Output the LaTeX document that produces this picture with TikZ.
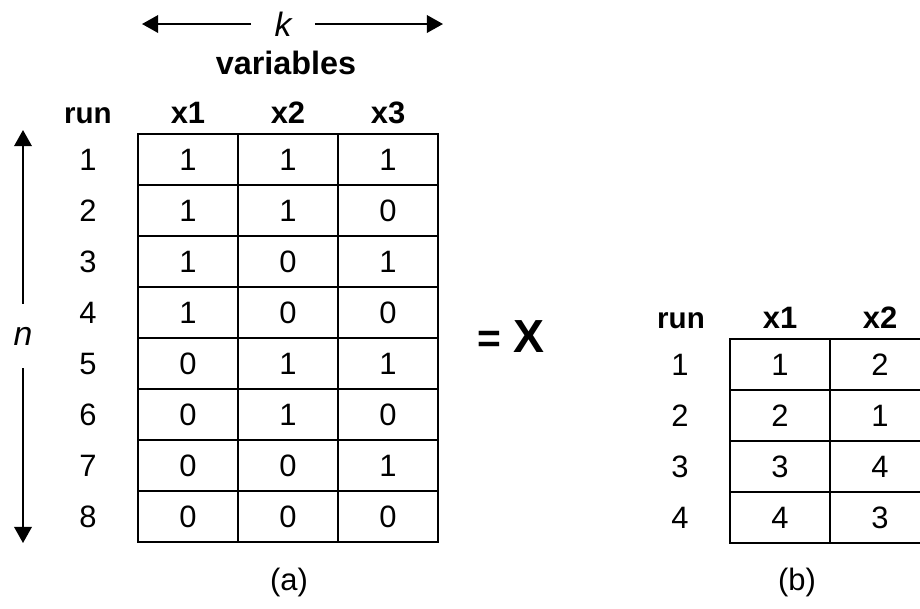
\documentclass[tikz,border=0pt]{standalone}
\usepackage{fontspec}
\setmainfont{Liberation Sans}
\usetikzlibrary{calc,arrows.meta}

\tikzset{
    cell/.style={draw=black, line width=1.8pt, minimum width=2.5cm, minimum height=1.275cm, inner sep=0pt, font=\fontsize{22}{25}\selectfont},
    hdr/.style={anchor=base, inner sep=0pt, font=\fontsize{22}{25}\selectfont\bfseries},
    num/.style={inner sep=0pt, font=\fontsize{22}{25}\selectfont},
    span/.style={line width=1.4pt, -{Triangle[length=11.5pt, width=12.5pt]}}
}

\begin{document}
\begin{tikzpicture}[x=0.025cm, y=-0.025cm]
    \useasboundingbox (0,0) rectangle (920,608);
    \clip (0,0) rectangle (920,608);

    % k variables
    \node[num, font=\fontsize{24}{27}\selectfont\itshape, minimum width=1.575cm] (k) at (283,24) {k};
    \coordinate (kl) at (142,24);
    \coordinate (kr) at (443,24);
    \draw[span] (k) -- (kl);
    \draw[span] (k) -- (kr);
    \node[num, font=\fontsize{23}{26}\selectfont\bfseries] (var) at (286,63) {variables};

    % n runs
    \node[num, font=\fontsize{24}{27}\selectfont\itshape, minimum height=1.6cm] (n) at (23,336) {n};
    \coordinate (nt) at (23,130);
    \coordinate (nb) at (23,543);
    \draw[span] (n) -- (nt);
    \draw[span] (n) -- (nb);

    % table (a)
    \node[hdr, font=\fontsize{21}{24}\selectfont\bfseries] (hrunA) at (88,123) {run};
    \node[hdr] (hxA1) at (188,123) {x1};
    \node[hdr] (hxA2) at (288,123) {x2};
    \node[hdr] (hxA3) at (388,123) {x3};

    \node[cell] (a11) at (188,159.5) {1};
    \node[cell] (a12) at ($(a11) + (100,0)$) {1};
    \node[cell] (a13) at ($(a11) + (200,0)$) {1};

    \node[cell] (a21) at ($(a11) + (0,51)$) {1};
    \node[cell] (a22) at ($(a21) + (100,0)$) {1};
    \node[cell] (a23) at ($(a21) + (200,0)$) {0};

    \node[cell] (a31) at ($(a21) + (0,51)$) {1};
    \node[cell] (a32) at ($(a31) + (100,0)$) {0};
    \node[cell] (a33) at ($(a31) + (200,0)$) {1};

    \node[cell] (a41) at ($(a31) + (0,51)$) {1};
    \node[cell] (a42) at ($(a41) + (100,0)$) {0};
    \node[cell] (a43) at ($(a41) + (200,0)$) {0};

    \node[cell] (a51) at ($(a41) + (0,51)$) {0};
    \node[cell] (a52) at ($(a51) + (100,0)$) {1};
    \node[cell] (a53) at ($(a51) + (200,0)$) {1};

    \node[cell] (a61) at ($(a51) + (0,51)$) {0};
    \node[cell] (a62) at ($(a61) + (100,0)$) {1};
    \node[cell] (a63) at ($(a61) + (200,0)$) {0};

    \node[cell] (a71) at ($(a61) + (0,51)$) {0};
    \node[cell] (a72) at ($(a71) + (100,0)$) {0};
    \node[cell] (a73) at ($(a71) + (200,0)$) {1};

    \node[cell] (a81) at ($(a71) + (0,51)$) {0};
    \node[cell] (a82) at ($(a81) + (100,0)$) {0};
    \node[cell] (a83) at ($(a81) + (200,0)$) {0};

    \node[num] (rA1) at ($(a11) + (-100,0)$) {1};
    \node[num] (rA2) at ($(a21) + (-100,0)$) {2};
    \node[num] (rA3) at ($(a31) + (-100,0)$) {3};
    \node[num] (rA4) at ($(a41) + (-100,0)$) {4};
    \node[num] (rA5) at ($(a51) + (-100,0)$) {5};
    \node[num] (rA6) at ($(a61) + (-100,0)$) {6};
    \node[num] (rA7) at ($(a71) + (-100,0)$) {7};
    \node[num] (rA8) at ($(a81) + (-100,0)$) {8};

    \node[num] (capA) at (289,582) {(a)};

    % = X
    \node[num, font=\fontsize{29}{32}\selectfont\bfseries] (eq) at (511,337) {= {\fontsize{33}{36}\selectfont X}};

    % table (b)
    \node[hdr, font=\fontsize{21}{24}\selectfont\bfseries] (hrunB) at (681,328) {run};
    \node[hdr] (hxB1) at (780,328) {x1};
    \node[hdr] (hxB2) at (880,328) {x2};

    \node[cell] (b11) at (780,364.5) {1};
    \node[cell] (b12) at ($(b11) + (100,0)$) {2};

    \node[cell] (b21) at ($(b11) + (0,51)$) {2};
    \node[cell] (b22) at ($(b21) + (100,0)$) {1};

    \node[cell] (b31) at ($(b21) + (0,51)$) {3};
    \node[cell] (b32) at ($(b31) + (100,0)$) {4};

    \node[cell] (b41) at ($(b31) + (0,51)$) {4};
    \node[cell] (b42) at ($(b41) + (100,0)$) {3};

    \node[num] (rB1) at ($(b11) + (-100,0)$) {1};
    \node[num] (rB2) at ($(b21) + (-100,0)$) {2};
    \node[num] (rB3) at ($(b31) + (-100,0)$) {3};
    \node[num] (rB4) at ($(b41) + (-100,0)$) {4};

    \node[num] (capB) at (797,582) {(b)};

\end{tikzpicture}
\end{document}
